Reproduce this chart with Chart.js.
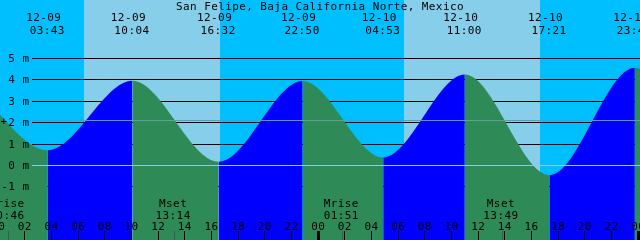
<!DOCTYPE html>
<html><head><meta charset="utf-8">
<script src="https://cdn.jsdelivr.net/npm/chart.js@4/dist/chart.umd.min.js"></script>
<style>html,body{margin:0;padding:0;background:#00BFFF;overflow:hidden}#wrap{width:640px;height:240px;position:relative}canvas{display:block}</style>
</head><body><div id="wrap"><canvas id="c" width="640" height="240"></canvas></div>
<script>
// ---------- data ----------
const chartTitle = 'San Felipe, Baja California Norte, Mexico';
// tide extremes (the first two and last two lie outside the visible window)
const tideDates   = ['12-08','12-08','12-09','12-09','12-09','12-09','12-10','12-10','12-10','12-10','12-11','12-11'];
const tideTimes   = ['14:10','20:40','03:43','10:04','16:32','22:50','04:53','11:00','17:21','23:45','06:10','12:20'];
const tideHeights = [0.3, 3.95, 0.71, 3.96, 0.18, 3.95, 0.37, 4.25, -0.45, 4.57, 0.25, 4.4];
const tideLabeled = [false, false, true, true, true, true, true, true, true, true, false, false];
// sun
const sunriseTimes = ['12-09 06:25', '12-10 06:25'];
const sunsetTimes  = ['12-09 16:37', '12-10 16:37'];
// moon
const moonEvents = ['Mrise', 'Mset', 'Mrise', 'Mset'];
const moonDates  = ['12-09', '12-09', '12-10', '12-10'];
const moonTimes  = ['00:46', '13:14', '01:51', '13:49'];
// axes
const levelTicks  = [-1, 0, 1, 2, 3, 4, 5];
const levelUnit   = 'm';
const hourLabels  = ['00','02','04','06','08','10','12','14','16','18','20','22',
                     '00','02','04','06','08','10','12','14','16','18','20','22','00'];
const hourValues  = [0,2,4,6,8,10,12,14,16,18,20,22,24,26,28,30,32,34,36,38,40,42,44,46,48];
const meanLevel   = 2.09;

// ---------- helpers ----------
function toHours(date, time) {
  const day = parseInt(date.split('-')[1], 10);
  const [hh, mm] = time.split(':').map(Number);
  return (day - 9) * 24 + hh + mm / 60;
}
function stamp(s) { const [d, t] = s.split(' '); return toHours(d, t); }

const NIGHT = '#00BFFF', DAY = '#87CEEB', FLOOD = '#0000FF', EBB = '#2E8B57';
const DATUM = '#87CEEB', MSL = '#5F9EA0';
const FONT = '11px "DejaVu Sans Mono", "Liberation Mono", monospace';

const tidePoints = tideTimes.map((t, i) => ({ x: toHours(tideDates[i], t), y: tideHeights[i] }));

function setFont(ctx) {
  ctx.font = FONT;
  try { ctx.letterSpacing = '0.4px'; } catch (e) {}
  ctx.fillStyle = '#000';
}

const decor = {
  id: 'tideDecor',
  beforeDatasetsDraw(chart) {
    const { ctx, chartArea: a, scales: { x, y } } = chart;
    ctx.save();
    ctx.fillStyle = NIGHT;
    ctx.fillRect(a.left, a.top, a.width, a.height);
    ctx.fillStyle = DAY;
    for (let i = 0; i < sunriseTimes.length; i++) {
      const x0 = Math.round(x.getPixelForValue(stamp(sunriseTimes[i])));
      const x1 = Math.round(x.getPixelForValue(stamp(sunsetTimes[i])));
      ctx.fillRect(x0, a.top, x1 - x0, a.height);
    }
    ctx.fillStyle = '#000';
    for (const v of levelTicks) {
      if (v === 0) continue;
      const yy = Math.floor(y.getPixelForValue(v));
      ctx.fillRect(32, yy, a.right - 32, 1);
    }
    ctx.restore();
  },
  afterDatasetsDraw(chart) {
    const { ctx, chartArea: a, scales: { x, y } } = chart;
    ctx.save();
    // datum and mean sea level lines
    ctx.fillStyle = DATUM;
    ctx.fillRect(32, Math.floor(y.getPixelForValue(0)), a.right - 32, 1);
    ctx.fillStyle = MSL;
    const mslY = Math.floor(y.getPixelForValue(meanLevel));
    ctx.fillRect(32, mslY, a.right - 32, 1);

    setFont(ctx);
    ctx.textBaseline = 'alphabetic';
    // level labels
    ctx.textAlign = 'right';
    for (const v of levelTicks) {
      const yy = Math.floor(y.getPixelForValue(v));
      ctx.fillText(v + ' ' + levelUnit, 29.4, yy + 4);
    }
    ctx.textAlign = 'left';
    ctx.fillText('+', 0.5, mslY + 4.5);

    // title
    ctx.textAlign = 'center';
    ctx.fillText(chartTitle, 320, 9.5);

    // extremes
    tidePoints.forEach((p, i) => {
      if (!tideLabeled[i]) return;
      const px = x.getPixelForValue(p.x);
      ctx.fillText(tideDates[i], px - 4, 21);
      ctx.fillText(tideTimes[i], px - 0.5, 34);
    });

    // moon events
    moonEvents.forEach((ev, i) => {
      const px = x.getPixelForValue(toHours(moonDates[i], moonTimes[i]));
      ctx.fillText(ev, px - 1.5, 207);
      ctx.fillText(moonTimes[i], px - 1.5, 219);
    });

    // hour labels and ticks
    hourValues.forEach((h, i) => {
      const px = x.getPixelForValue(h);
      ctx.fillStyle = '#000';
      ctx.fillText(hourLabels[i], px, 230);
      if (h % 24 === 0) ctx.fillRect(Math.round(px) - 1, 231, 3, 9);
      else ctx.fillRect(Math.floor(px), 231, 1, 9);
    });
    ctx.fillStyle = '#505050';
    moonEvents.forEach((ev, i) => {
      const px = x.getPixelForValue(toHours(moonDates[i], moonTimes[i]));
      ctx.fillRect(Math.floor(px), 231, 1, 9);
    });
    ctx.restore();
  }
};

new Chart(document.getElementById('c'), {
  type: 'line',
  data: {
    datasets: [{
      data: tidePoints,
      borderColor: 'rgba(0,0,0,0)',
      borderWidth: 0,
      pointRadius: 0,
      backgroundColor: EBB,
      fill: 'start',
      cubicInterpolationMode: 'monotone',
      segment: {
        backgroundColor: c => (c.p1.parsed.y > c.p0.parsed.y ? FLOOD : EBB)
      }
    }]
  },
  options: {
    responsive: false,
    animation: false,
    events: [],
    layout: { padding: 0 },
    plugins: { legend: { display: false }, tooltip: { enabled: false }, title: { display: false } },
    scales: {
      x: { type: 'linear', min: 0.1375, max: 48.1375, display: false },
      y: { type: 'linear', min: -3.481, max: 7.734, display: false }
    }
  },
  plugins: [decor]
});
</script>
</body></html>
